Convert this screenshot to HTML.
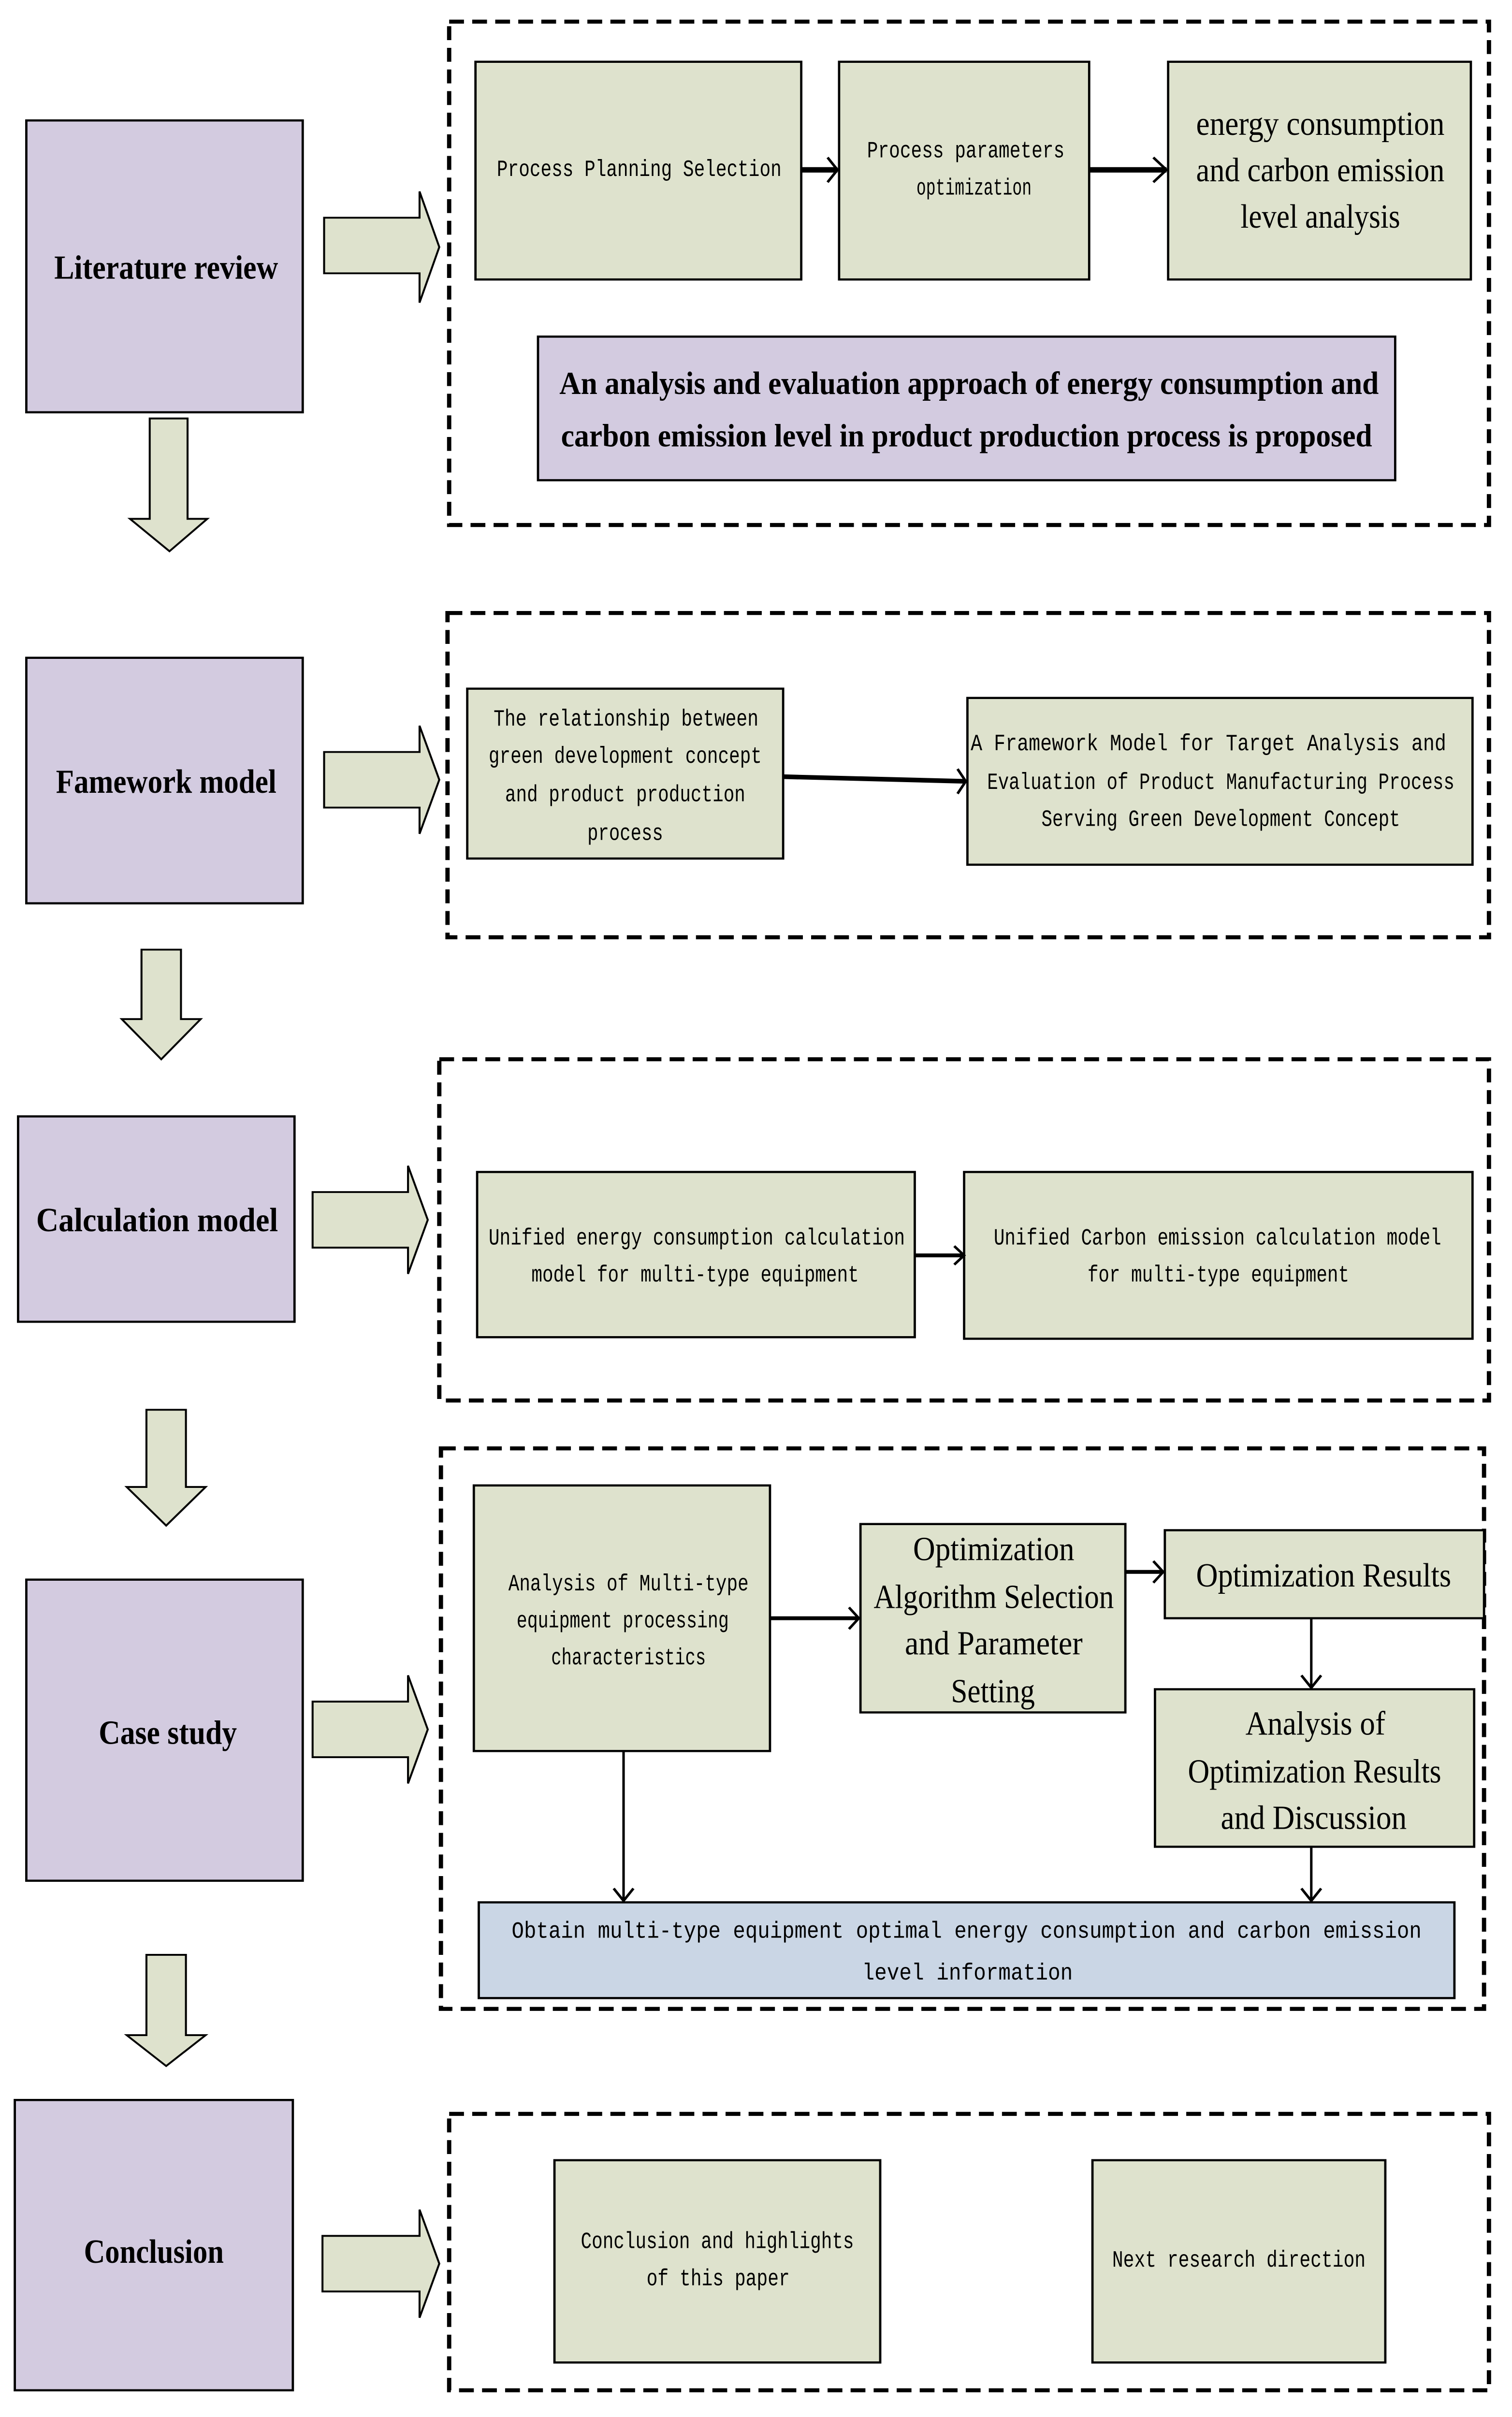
<!DOCTYPE html>
<html><head><meta charset="utf-8"><style>
html,body{margin:0;padding:0;background:#fff;overflow:hidden}
svg{position:absolute;left:0;top:0;display:block;width:100vw;height:100vh}
.g{fill:#dee2cd;stroke:#000;stroke-width:1.4}
.p{fill:#d3cbe0;stroke:#000;stroke-width:1.4}
.b{fill:#cad6e5;stroke:#000;stroke-width:1.4}
.d{fill:none;stroke:#000;stroke-width:2.6;stroke-dasharray:9 5}
.ar{fill:#dee2cd;stroke:#000;stroke-width:1.2}
.ln{stroke:#000;fill:none}
.hd{stroke:#000;fill:none;stroke-width:1.6}
.s{font-family:"Liberation Serif",serif;fill:#000;dominant-baseline:central}
.sb{font-family:"Liberation Serif",serif;font-weight:bold;fill:#000;dominant-baseline:central}
.m{font-family:"Liberation Mono",monospace;fill:#000;dominant-baseline:central}
</style></head><body>
<svg viewBox="0 0 919 1565.3" preserveAspectRatio="none" xmlns="http://www.w3.org/2000/svg">
<rect class="d" x="273" y="14" width="632" height="326"/>
<rect class="d" x="272" y="397" width="633" height="210"/>
<rect class="d" x="267" y="686" width="638" height="221"/>
<rect class="d" x="268" y="938" width="634" height="363"/>
<rect class="d" x="273" y="1369" width="632" height="179"/>

<rect class="p" x="16" y="78" width="168" height="189"/>
<text class="sb" x="33" y="173" font-size="22" textLength="136" lengthAdjust="spacingAndGlyphs">Literature review</text>
<rect class="p" x="16" y="426" width="168" height="159"/>
<text class="sb" x="34" y="506" font-size="22" textLength="134" lengthAdjust="spacingAndGlyphs">Famework model</text>
<rect class="p" x="11" y="723" width="168" height="133"/>
<text class="sb" x="22" y="790" font-size="22" textLength="147" lengthAdjust="spacingAndGlyphs">Calculation  model</text>
<rect class="p" x="16" y="1023" width="168" height="195"/>
<text class="sb" x="60" y="1122" font-size="22" textLength="84" lengthAdjust="spacingAndGlyphs">Case study</text>
<rect class="p" x="9" y="1360" width="169" height="188"/>
<text class="sb" x="51" y="1458" font-size="22" textLength="85" lengthAdjust="spacingAndGlyphs">Conclusion</text>

<path class="ar" d="M197,141 H255 V124 L267,160 L255,196 V177 H197 Z"/>
<path class="ar" d="M197,487 H255 V470 L267,505 L255,540 V523 H197 Z"/>
<path class="ar" d="M190,772 H248 V755 L260,790 L248,825 V808 H190 Z"/>
<path class="ar" d="M190,1102 H248 V1085 L260,1120 L248,1155 V1138 H190 Z"/>
<path class="ar" d="M196,1448 H255 V1431 L267,1466 L255,1501 V1484 H196 Z"/>

<path class="ar" d="M91,271 H114 V336 H126 L103,357 L79,336 H91 Z"/>
<path class="ar" d="M86,615 H110 V660 H122 L98,686 L74,660 H86 Z"/>
<path class="ar" d="M89,913 H113 V963 H125 L101,988 L77,963 H89 Z"/>
<path class="ar" d="M89,1266 H113 V1318 H125 L101,1338 L77,1318 H89 Z"/>

<rect class="g" x="289" y="40" width="198" height="141"/>
<text class="m" x="302" y="110" font-size="15" textLength="173" lengthAdjust="spacingAndGlyphs">Process Planning Selection</text>
<rect class="g" x="510" y="40" width="152" height="141"/>
<text class="m" x="527" y="98" font-size="15" textLength="120" lengthAdjust="spacingAndGlyphs">Process parameters</text>
<text class="m" x="557" y="122" font-size="15" textLength="70" lengthAdjust="spacingAndGlyphs">optimization</text>
<rect class="g" x="710" y="40" width="184" height="141"/>
<text class="s" x="727" y="80" font-size="22" textLength="151" lengthAdjust="spacingAndGlyphs">energy consumption</text>
<text class="s" x="727" y="110" font-size="22" textLength="151" lengthAdjust="spacingAndGlyphs">and carbon emission</text>
<text class="s" x="754" y="140" font-size="22" textLength="97" lengthAdjust="spacingAndGlyphs">level analysis</text>
<line class="ln" x1="487" y1="110" x2="509" y2="110" stroke-width="3.5"/>
<path class="hd" d="M503,102 L509,110 L503,118" stroke-width="2"/>
<line class="ln" x1="662" y1="110" x2="709" y2="110" stroke-width="3.5"/>
<path class="hd" d="M701,102 L709,110 L701,118" stroke-width="2"/>
<rect class="p" x="327" y="218" width="521" height="93"/>
<text class="sb" x="340" y="248" font-size="21" textLength="498" lengthAdjust="spacingAndGlyphs">An analysis and evaluation approach of energy consumption and</text>
<text class="sb" x="341" y="282" font-size="21" textLength="493" lengthAdjust="spacingAndGlyphs">carbon emission level in product production process is proposed</text>

<rect class="g" x="284" y="446" width="192" height="110"/>
<text class="m" x="300" y="466" font-size="15" textLength="161" lengthAdjust="spacingAndGlyphs">The relationship between</text>
<text class="m" x="297" y="490" font-size="15" textLength="166" lengthAdjust="spacingAndGlyphs">green development concept</text>
<text class="m" x="307" y="515" font-size="15" textLength="146" lengthAdjust="spacingAndGlyphs">and product production</text>
<text class="m" x="357" y="540" font-size="15" textLength="46" lengthAdjust="spacingAndGlyphs">process</text>
<rect class="g" x="588" y="452" width="307" height="108"/>
<text class="m" x="590" y="482" font-size="15" textLength="289" lengthAdjust="spacingAndGlyphs">A Framework Model for Target Analysis and</text>
<text class="m" x="600" y="507" font-size="15" textLength="284" lengthAdjust="spacingAndGlyphs">Evaluation of Product Manufacturing Process</text>
<text class="m" x="633" y="531" font-size="15" textLength="218" lengthAdjust="spacingAndGlyphs">Serving Green Development Concept</text>
<line class="ln" x1="476" y1="503" x2="587" y2="506" stroke-width="3"/>
<path class="hd" d="M582,498 L587,506 L582,514" stroke-width="1.6"/>

<rect class="g" x="290" y="759" width="266" height="107"/>
<text class="m" x="297" y="802" font-size="15" textLength="253" lengthAdjust="spacingAndGlyphs">Unified energy consumption calculation</text>
<text class="m" x="323" y="826" font-size="15" textLength="199" lengthAdjust="spacingAndGlyphs">model for multi-type equipment</text>
<rect class="g" x="586" y="759" width="309" height="108"/>
<text class="m" x="604" y="802" font-size="15" textLength="272" lengthAdjust="spacingAndGlyphs">Unified Carbon emission calculation model</text>
<text class="m" x="661" y="826" font-size="15" textLength="159" lengthAdjust="spacingAndGlyphs">for multi-type equipment</text>
<line class="ln" x1="556" y1="813" x2="586" y2="813" stroke-width="2.5"/>
<path class="hd" d="M580,807 L586,813 L580,819"/>

<rect class="g" x="288" y="962" width="180" height="172"/>
<text class="m" x="309" y="1026" font-size="15" textLength="146" lengthAdjust="spacingAndGlyphs">Analysis of Multi-type</text>
<text class="m" x="314" y="1050" font-size="15" textLength="129" lengthAdjust="spacingAndGlyphs">equipment processing</text>
<text class="m" x="335" y="1074" font-size="15" textLength="94" lengthAdjust="spacingAndGlyphs">characteristics</text>
<rect class="g" x="523" y="987" width="161" height="122"/>
<text class="s" x="555" y="1003" font-size="22" textLength="98" lengthAdjust="spacingAndGlyphs">Optimization</text>
<text class="s" x="531" y="1034" font-size="22" textLength="146" lengthAdjust="spacingAndGlyphs">Algorithm Selection</text>
<text class="s" x="550" y="1064" font-size="22" textLength="108" lengthAdjust="spacingAndGlyphs">and Parameter</text>
<text class="s" x="578" y="1095" font-size="22" textLength="51" lengthAdjust="spacingAndGlyphs">Setting</text>
<rect class="g" x="708" y="991" width="194" height="57"/>
<text class="s" x="727" y="1020" font-size="22" textLength="155" lengthAdjust="spacingAndGlyphs">Optimization Results</text>
<rect class="g" x="702" y="1094" width="194" height="102"/>
<text class="s" x="757" y="1116" font-size="22" textLength="85" lengthAdjust="spacingAndGlyphs">Analysis of</text>
<text class="s" x="722" y="1147" font-size="22" textLength="154" lengthAdjust="spacingAndGlyphs">Optimization Results</text>
<text class="s" x="742" y="1177" font-size="22" textLength="113" lengthAdjust="spacingAndGlyphs">and Discussion</text>
<rect class="b" x="291" y="1232" width="593" height="62"/>
<text class="m" x="311" y="1251" font-size="15" textLength="553" lengthAdjust="spacingAndGlyphs">Obtain multi-type equipment optimal energy consumption and carbon emission</text>
<text class="m" x="524" y="1278" font-size="15" textLength="128" lengthAdjust="spacingAndGlyphs">level information</text>
<line class="ln" x1="468" y1="1048" x2="522" y2="1048" stroke-width="2.5"/>
<path class="hd" d="M516,1041 L522,1048 L516,1055"/>
<line class="ln" x1="684" y1="1018" x2="707" y2="1018" stroke-width="2.5"/>
<path class="hd" d="M701,1011 L707,1018 L701,1025"/>
<line class="ln" x1="379" y1="1134" x2="379" y2="1231" stroke-width="1.5"/>
<path class="hd" d="M373,1223 L379,1231 L385,1223"/>
<line class="ln" x1="797" y1="1048" x2="797" y2="1093" stroke-width="1.5"/>
<path class="hd" d="M791,1085 L797,1093 L803,1085"/>
<line class="ln" x1="797" y1="1196" x2="797" y2="1231" stroke-width="1.5"/>
<path class="hd" d="M791,1223 L797,1231 L803,1223"/>

<rect class="g" x="337" y="1399" width="198" height="131"/>
<text class="m" x="353" y="1452" font-size="15" textLength="166" lengthAdjust="spacingAndGlyphs">Conclusion and highlights</text>
<text class="m" x="393" y="1476" font-size="15" textLength="87" lengthAdjust="spacingAndGlyphs">of this paper</text>
<rect class="g" x="664" y="1399" width="178" height="131"/>
<text class="m" x="676" y="1464" font-size="15" textLength="154" lengthAdjust="spacingAndGlyphs">Next research direction</text>
</svg>
</body></html>
